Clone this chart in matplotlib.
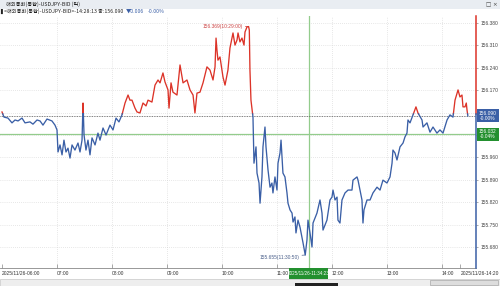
import numpy as np
import matplotlib.pyplot as plt
from matplotlib.patches import Rectangle
import matplotlib.transforms as mtransforms

# minutes after 06:00 and bid price
minutos = [0, 2.2, 6.5, 10.9, 14.2, 17.5, 21.8, 25.1, 30.5, 33.8, 38.2, 41.5, 44.7, 49.1, 54.5, 57.8,
           60.0, 61.1, 63.3, 65.5, 67.6, 69.8, 72.0, 74.2, 76.4, 79.6, 82.9, 85.1, 87.3, 88.4, 89.5,
           91.6, 93.8, 96.0, 98.2, 101.5, 104.7, 106.9, 110.2, 113.5, 117.8, 121.1, 124.4, 127.6, 130.9,
           134.2, 137.5, 139.6, 141.8, 145.1, 147.3, 150.5, 153.8, 157.1, 159.3, 163.6, 166.9, 170.2,
           172.4, 175.6, 177.8, 181.1, 182.2, 184.4, 186.5, 190.9, 194.2, 197.5, 201.8, 205.1, 208.4,
           210.5, 212.7, 216.0, 219.3, 223.6, 226.9, 230.2, 232.4, 233.5, 234.5, 235.6, 237.8, 241.1,
           243.3, 246.5, 248.7, 252.0, 254.2, 256.4, 257.5, 259.6, 261.8, 264.0, 265.1, 267.3, 269.0,
           269.8, 270.5, 271.6, 273.8,
           274.9, 277.1, 278.2, 280.4, 281.5, 283.6, 284.7, 286.9, 288.0, 290.2, 292.4, 294.5, 295.6,
           297.8, 300.0, 301.1, 303.3, 304.4, 306.5, 308.7, 310.9, 312.0, 314.2, 316.4, 317.5, 319.6,
           320.7, 322.9, 325.1, 328.4, 330.8,
           332.7, 333.8, 336.0, 338.2, 339.3, 343.6, 346.9, 349.1, 350.2, 354.5, 357.8, 360.0, 361.1,
           363.3, 365.5, 366.5, 368.7, 370.9, 374.2, 377.5, 381.8, 382.9, 387.3, 388.4, 390.5, 392.7,
           393.8, 394.9, 398.2, 401.5, 404.7, 409.1, 412.4, 415.6, 420.0, 423.3, 425.5, 426.5, 428.7,
           430.9, 434.2, 437.5, 439.6, 441.8, 442.9, 445.1, 448.4, 451.6, 453.8, 458.2, 459.3, 463.6,
           466.9, 470.2, 474.5, 477.8, 481.1, 485.5, 488.7, 492.0, 494.2, 496.4, 497.5, 499.6, 501.8,
           502.9, 505.1, 506.5, 507.3, 508.2]
precos = [156.102, 156.086, 156.083, 156.068, 156.077, 156.074, 156.083, 156.068, 156.071, 156.064,
          156.077, 156.074, 156.061, 156.080, 156.074, 156.061,
          156.046, 155.977, 155.999, 155.968, 156.014, 155.977, 155.989, 155.958, 155.999, 155.983,
          156.005, 155.977, 156.014, 156.130, 156.030, 155.983, 156.014, 155.968, 156.021, 155.999,
          156.036, 156.014, 156.052, 156.030, 156.061, 156.046, 156.083, 156.071, 156.093,
          156.130, 156.155, 156.139, 156.139, 156.114, 156.102, 156.099, 156.130, 156.121, 156.139,
          156.133, 156.186, 156.202, 156.193, 156.224, 156.196, 156.171, 156.114, 156.193, 156.164,
          156.155, 156.249, 156.193, 156.202, 156.171, 156.155, 156.099, 156.161, 156.164, 156.193,
          156.243, 156.233, 156.202, 156.243, 156.333, 156.296, 156.264, 156.274, 156.211, 156.186,
          156.233, 156.302, 156.349, 156.311, 156.327, 156.349, 156.321, 156.333, 156.311, 156.352,
          156.368, 156.369, 156.358, 156.233, 156.139, 156.086,
          155.942, 155.993, 155.911, 155.880, 155.817, 155.899, 155.993, 156.055, 155.993, 155.921,
          155.867, 155.880, 155.849, 155.899, 155.858, 155.942, 155.974, 156.014, 155.911, 155.899,
          155.849, 155.817, 155.796, 155.786, 155.758, 155.774, 155.724, 155.764, 155.742, 155.693,
          155.655,
          155.702, 155.764, 155.724, 155.680, 155.755, 155.786, 155.827, 155.786, 155.733, 155.764,
          155.827, 155.836, 155.858, 155.827, 155.836, 155.764, 155.755, 155.827, 155.849, 155.858,
          155.858, 155.889, 155.899, 155.889, 155.858, 155.827, 155.755, 155.796, 155.827, 155.827,
          155.849, 155.867, 155.858, 155.889, 155.880, 155.899, 155.942, 155.983, 155.974, 155.952,
          155.993, 156.005, 156.024, 156.036, 156.077, 156.068, 156.093, 156.118, 156.099, 156.077,
          156.055, 156.068, 156.039, 156.055, 156.036, 156.046, 156.036, 156.077, 156.093, 156.086,
          156.139, 156.161, 156.171, 156.149, 156.155, 156.118, 156.118, 156.130, 156.108, 156.090]

fechamento_ant = 156.096   # linha que separa vermelho / azul
preco_atual = 156.090
preco_cursor = 156.032
minuto_cursor = 334.4      # 11:34:23
y_ticks = [155.680, 155.750, 155.820, 155.890, 155.960, 156.030, 156.100, 156.170, 156.240, 156.310, 156.380]
y_labels = ['155.680', '155.750', '155.820', '155.890', '155.960', '', '', '156.170', '156.240',
            '156.310', '156.380']
x_ticks = [0, 60, 120, 180, 240, 300, 360, 420, 480, 500]
x_labels = ['2025/11/26-06:00', '07:00', '08:00', '09:00', '10:00', '11:00', '12:00', '13:00', '14:00',
            '2025/11/26-14:20']

VERMELHO = '#dc3328'
AZUL = '#3a5fa6'
VERDE_LINHA = '#93cc8c'
VERDE_CAIXA = '#23902f'
FONTE = ['Liberation Sans', 'DejaVu Sans']
FONTE_KR = ['Noto Sans CJK KR', 'DejaVu Sans']
TAM = 3.5

fig = plt.figure(figsize=(5, 2.86), dpi=100)
ax = fig.add_axes([0, 18 / 286, 476 / 500, 252 / 286])

# divide a serie no cruzamento do fechamento anterior
t = np.array(minutos)
p = np.array(precos)
tt, pp = [t[0]], [p[0]]
for i in range(1, len(t)):
    if (p[i - 1] - fechamento_ant) * (p[i] - fechamento_ant) < 0:
        tc = t[i - 1] + (fechamento_ant - p[i - 1]) * (t[i] - t[i - 1]) / (p[i] - p[i - 1])
        tt.append(tc)
        pp.append(fechamento_ant)
    tt.append(t[i])
    pp.append(p[i])
tt = np.array(tt)
pp = np.array(pp)
ax.plot(tt, np.where(pp >= fechamento_ant, pp, np.nan), color=VERMELHO, lw=0.95, zorder=4)
ax.plot(tt, np.where(pp <= fechamento_ant, pp, np.nan), color=AZUL, lw=0.95, zorder=4)

ax.set_xlim(-2.18, 517.1)
ax.set_ylim(155.6144, 156.402)

# grade pontilhada
for h in x_ticks[1:-1]:
    ax.axvline(h, color='#d0d0d0', lw=0.5, ls=(0, (1, 2)), zorder=1)
for v in y_ticks:
    ax.axhline(v, color='#d0d0d0', lw=0.5, ls=(0, (1, 2)), zorder=1)

ax.axhline(preco_atual, color='#555555', lw=0.6, ls=(0, (1, 1)), zorder=3)
ax.axhline(preco_cursor, color=VERDE_LINHA, lw=0.9, zorder=2)
ax.axvline(minuto_cursor, color=VERDE_LINHA, lw=0.9, zorder=2)

for s in ['top', 'left', 'right']:
    ax.spines[s].set_visible(False)
ax.spines['bottom'].set_color('#888888')
ax.spines['bottom'].set_linewidth(0.6)

trans_r = mtransforms.blended_transform_factory(ax.transAxes, ax.transData)
ax.plot([1, 1], [fechamento_ant, 156.402], color=VERMELHO, lw=1.1, transform=trans_r, clip_on=False, zorder=5)
ax.plot([1, 1], [155.6144, fechamento_ant], color=AZUL, lw=1.1, transform=trans_r, clip_on=False, zorder=5)

ax.set_xticks(x_ticks)
ax.set_xticklabels(x_labels, fontsize=TAM, family=FONTE, color='#333333')
for lab in ax.get_xticklabels():
    lab.set_ha('left')
ax.tick_params(axis='x', direction='in', length=3, width=0.5, color='#888888', pad=2.5)

ax.yaxis.tick_right()
ax.set_yticks(y_ticks)
ax.set_yticklabels(y_labels, fontsize=TAM, family=FONTE, color='#444444')
ax.tick_params(axis='y', length=1.5, width=0.5, color='#888888', pad=1.5)

# caixas do eixo direito
for preco, txt, cor in [(preco_atual, '156.090\n-0.00%', AZUL), (preco_cursor, '156.032\n-0.04%', VERDE_CAIXA)]:
    ax.add_patch(Rectangle((1.002, preco - 0.0205), 0.046, 0.041, transform=trans_r, clip_on=False,
                           facecolor=cor, edgecolor='none', zorder=10))
    ax.text(1.025, preco, txt, transform=trans_r, ha='center', va='center', fontsize=TAM, family=FONTE,
            color='white', linespacing=1.0, zorder=11, clip_on=False)

# caixa do cursor no eixo x
trans_b = mtransforms.blended_transform_factory(ax.transData, ax.transAxes)
ax.add_patch(Rectangle((minuto_cursor - 21.5, -0.042), 43, 0.042, transform=trans_b, clip_on=False,
                       facecolor=VERDE_CAIXA, edgecolor='none', zorder=10))
ax.text(minuto_cursor, -0.021, '2025/11/26-11:34:23', transform=trans_b, ha='center', va='center',
        fontsize=3.3, family=FONTE, color='white', zorder=11, clip_on=False)

# maxima e minima
i_max = int(np.argmax(p))
i_min = int(np.argmin(p))
ax.annotate('156.369(10:29:00)', xy=(t[i_max], p[i_max]), xytext=(-6, 0), textcoords='offset pixels',
            ha='right', va='center', fontsize=TAM, family=FONTE, color='#cc4444',
            arrowprops=dict(arrowstyle='-', color='#cc4444', lw=0.5, shrinkA=0, shrinkB=0))
ax.annotate('155.655(11:30:50)', xy=(t[i_min], p[i_min]), xytext=(-6, -2), textcoords='offset pixels',
            ha='right', va='center', fontsize=TAM, family=FONTE, color='#4a5f8a',
            arrowprops=dict(arrowstyle='-', color='#4a5f8a', lw=0.5, shrinkA=0, shrinkB=0))

# cabecalho
fig.patches.append(Rectangle((0, 1 - 9 / 286), 1, 9 / 286, transform=fig.transFigure,
                             facecolor='#e9edf2', edgecolor='none', zorder=0))
fig.text(6 / 500, 1 - 4.5 / 286, '해외통화(통합)-USDJPY-BID (틱)', fontsize=3.8, family=FONTE_KR,
         color='#222222', va='center')
fig.text(0.5 / 500, 1 - 11.5 / 286, '▌', fontsize=3.6, family=['DejaVu Sans'], color='#222222', va='center')
renderer = fig.canvas.get_renderer()
partes = [('<해외통화(통합)-USDJPY-BID>-14:28:13 종:156.090', '#222222'),
          ('▼0.006', AZUL), ('-0.00%', AZUL)]
x0 = 4
for txt, cor in partes:
    tx = fig.text(x0 / 500, 1 - 11.5 / 286, txt, fontsize=3.8, family=FONTE_KR, color=cor, va='center')
    x0 = tx.get_window_extent(renderer).x1 + 3
fig.text(486 / 500, 1 - 4.5 / 286, '□ ×', fontsize=4.0, family=['DejaVu Sans'], color='#444444', va='center')

# barra de rolagem inferior
fig.patches.append(Rectangle((0, 0), 1, 7 / 286, transform=fig.transFigure,
                             facecolor='#eeeeee', edgecolor='#c8c8c8', lw=0.5, zorder=0))
fig.patches.append(Rectangle((295 / 500, 0), 43 / 500, 3 / 286, transform=fig.transFigure,
                             facecolor='#222222', edgecolor='none', zorder=1))
fig.patches.append(Rectangle((430 / 500, 1 / 286), 68 / 500, 5 / 286, transform=fig.transFigure,
                             facecolor='#dddddd', edgecolor='#999999', lw=0.4, zorder=1))

fig.savefig('out.png', dpi=100)
